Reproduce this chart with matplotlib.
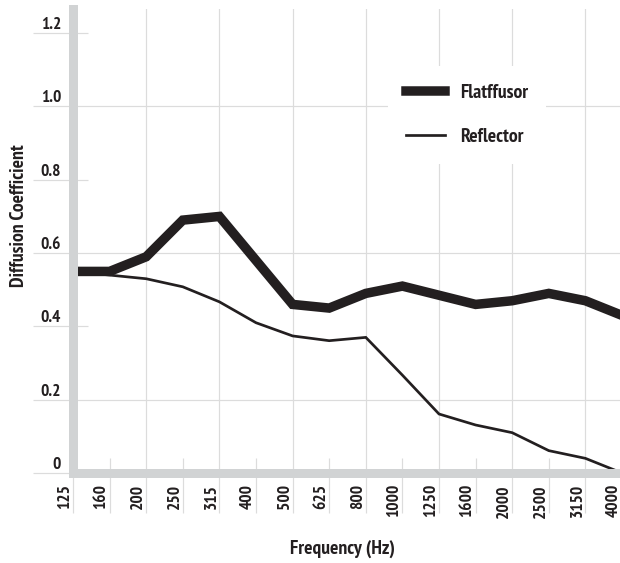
import matplotlib
matplotlib.use("Agg")
import matplotlib.pyplot as plt
from matplotlib.ticker import FixedLocator
from matplotlib import font_manager

# ---- data ----
freqs = ["125", "160", "200", "250", "315", "400", "500", "625", "800",
         "1000", "1250", "1600", "2000", "2500", "3150", "4000"]
flatffusor = [0.55, 0.55, 0.59, 0.69, 0.70, 0.58, 0.46, 0.45, 0.49,
              0.51, 0.485, 0.46, 0.47, 0.49, 0.47, 0.43]
reflector = [0.55, 0.54, 0.53, 0.508, 0.467, 0.41, 0.374, 0.361, 0.37,
             0.267, 0.161, 0.131, 0.11, 0.061, 0.04, 0.0]
y_ticks = [0, 0.2, 0.4, 0.6, 0.8, 1.0, 1.2]
y_tick_labels = ["0", "0.2", "0.4", "0.6", "0.8", "1.0", "1.2"]
y_grid = [0.2, 0.6, 1.0]
y_short = [0.4, 0.8, 1.2]

# ---- fonts ----
names = {f.name for f in font_manager.fontManager.ttflist}
candidates = ["PT Sans Narrow", "Fira Sans Condensed", "Roboto Condensed",
              "Open Sans Condensed", "Liberation Sans Narrow", "Roboto"]
main_font = next((c for c in candidates if c in names), "DejaVu Sans")
condensed = main_font != "Roboto" and main_font != "DejaVu Sans"
plt.rcParams["font.family"] = [main_font, "DejaVu Sans"]
k = 1.0 if condensed else 0.8  # shrink if only a wide font is available

INK = "#231f20"
SPINE = "#d1d3d4"
GRID = "#dcdcdc"
PX = 0.72  # points per pixel at dpi 100

fig = plt.figure(figsize=(6.2, 5.63), dpi=100)
W, H = 620, 563
ax = fig.add_axes([73 / W, 1 - 473 / H, (622 - 73) / W, (473 - 9) / H])

x = list(range(len(freqs)))
ax.set_xlim(0, len(freqs) - 1)
ax.set_ylim(0, 1.266)

# grid lines
for i in x[2::2]:
    ax.axvline(i, color=GRID, lw=1.2 * PX, zorder=0)
for yv in y_grid:
    ax.axhline(yv, color=GRID, lw=1.2 * PX, zorder=0)

# lines
ax.plot(x, reflector, color=INK, lw=2.7 * PX, solid_joinstyle="miter", label="Reflector", zorder=3)
ax.plot(x, flatffusor, color=INK, lw=9.5 * PX, solid_joinstyle="miter", label="Flatffusor", zorder=4)

# spines
for s in ["top", "right"]:
    ax.spines[s].set_visible(False)
for s in ["left", "bottom"]:
    ax.spines[s].set_color(SPINE)
    ax.spines[s].set_linewidth(9 * PX)
    ax.spines[s].set_capstyle("projecting")
    ax.spines[s].set_zorder(5)

TICK_FS = 12.5 * k
TITLE_FS = 14.2 * k

# x ticks
ax.xaxis.remove_overlapping_locs = False
ax.set_xticks(x)
ax.set_xticklabels(freqs, rotation=90, ha="right", va="top")
ax.xaxis.set_minor_locator(FixedLocator(x[1::2]))
ax.tick_params(axis="x", which="major", direction="out", length=40 * PX,
               width=1.2 * PX, color=GRID, pad=-29 * PX, labelsize=TICK_FS,
               labelcolor=INK)
ax.tick_params(axis="x", which="minor", direction="in", length=15 * PX,
               width=1.2 * PX, color=GRID)
for lab in ax.get_xticklabels():
    lab.set_fontweight("bold")

# y ticks
ax.yaxis.remove_overlapping_locs = False
ax.set_yticks(y_ticks)
ax.set_yticklabels(y_tick_labels)
ax.yaxis.set_minor_locator(FixedLocator(y_short))
ax.tick_params(axis="y", which="major", direction="out", length=40 * PX,
               width=1.2 * PX, color=GRID, pad=-28 * PX, labelsize=TICK_FS,
               labelcolor=INK)
ax.tick_params(axis="y", which="minor", direction="in", length=15 * PX,
               width=1.2 * PX, color=GRID)
for lab in ax.get_yticklabels():
    lab.set_fontweight("bold")
    lab.set_va("bottom")

# legend
handles, labels = ax.get_legend_handles_labels()
leg = ax.legend(handles[::-1], labels[::-1], loc="center left",
                bbox_to_anchor=(388 / W, 1 - 115 / H), bbox_transform=fig.transFigure,
                frameon=True, facecolor="white", edgecolor="none", framealpha=1,
                prop={"weight": "bold", "size": TITLE_FS},
                handlelength=2.0, handletextpad=0.75, labelspacing=1.35,
                borderpad=0.9, borderaxespad=0)
for t in leg.get_texts():
    t.set_color(INK)
leg.set_zorder(6)

# axis titles
fig.text(19 / W, 1 - 216 / H, "Diffusion Coefficient", rotation=90, ha="center",
         va="center", fontsize=TITLE_FS, fontweight="bold", color=INK)
fig.text(343 / W, 1 - 549 / H, "Frequency (Hz)", ha="center", va="center",
         fontsize=TITLE_FS, fontweight="bold", color=INK)

fig.savefig("out.png", dpi=100)
